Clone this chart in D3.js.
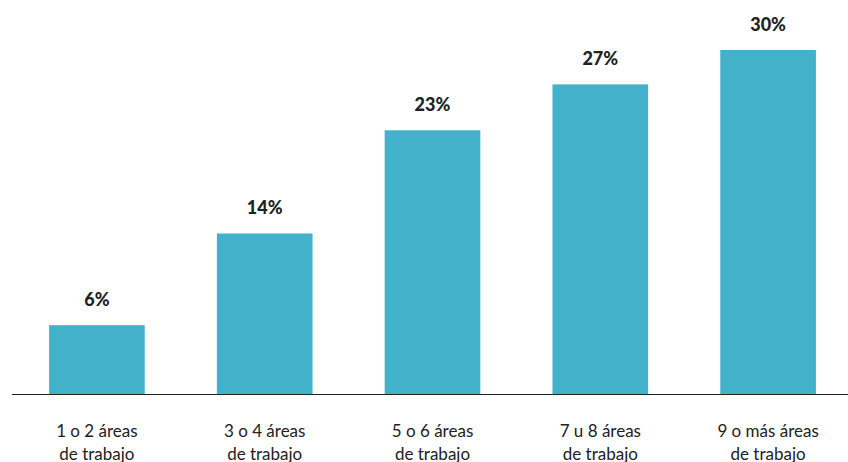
<!DOCTYPE html>
<html><head><meta charset="utf-8">
<script src="https://cdn.jsdelivr.net/npm/d3@7"></script>
<style>html,body{margin:0;padding:0;background:#fff;}</style>
</head><body>
<svg id="chart" width="848" height="462"></svg>
<script>
const categories = ["1 o 2 áreas|de trabajo","3 o 4 áreas|de trabajo","5 o 6 áreas|de trabajo","7 u 8 áreas|de trabajo","9 o más áreas|de trabajo"];
const values = [6, 14, 23, 27, 30];
const valueLabels = ["6%","14%","23%","27%","30%"];

const svg = d3.select("#chart");
const baseline = 394;
const x = d3.scaleBand().domain(categories).range([13, 852]).paddingInner(0.43).paddingOuter(0.215);
const y = d3.scaleLinear().domain([0, 30]).range([baseline, 50]);

svg.selectAll("rect.bar").data(values).join("rect")
  .attr("class","bar")
  .attr("x",(d,i)=>x(categories[i]))
  .attr("width",x.bandwidth())
  .attr("y",d=>y(d))
  .attr("height",d=>baseline-y(d))
  .attr("fill","#42b1c9");

svg.append("line").attr("x1",12).attr("x2",848).attr("y1",baseline+0.5).attr("y2",baseline+0.5)
  .attr("stroke","#222").attr("stroke-width",1.2);

svg.selectAll("text.val").data(values).join("text")
  .attr("class","val")
  .attr("x",(d,i)=>x(categories[i])+x.bandwidth()/2)
  .attr("y",d=>y(d)-19)
  .attr("text-anchor","middle")
  .attr("font-family","Lato, 'Open Sans', sans-serif")
  .attr("font-weight","900")
  .attr("font-size","18px")
  .attr("fill","#222")
  .text((d,i)=>valueLabels[i]);

const cat = svg.selectAll("text.cat").data(categories).join("text")
  .attr("class","cat")
  .attr("x",d=>x(d)+x.bandwidth()/2)
  .attr("y",437)
  .attr("text-anchor","middle")
  .attr("font-family","Lato, 'Open Sans', sans-serif")
  .attr("font-size","17px")
  .attr("fill","#222");
cat.each(function(d){
  const parts = d.split("|");
  const t = d3.select(this);
  const cx = +t.attr("x");
  parts.forEach((p,j)=>t.append("tspan").attr("x",cx).attr("dy", j===0?0:23).text(p));
});
</script>
</body></html>
